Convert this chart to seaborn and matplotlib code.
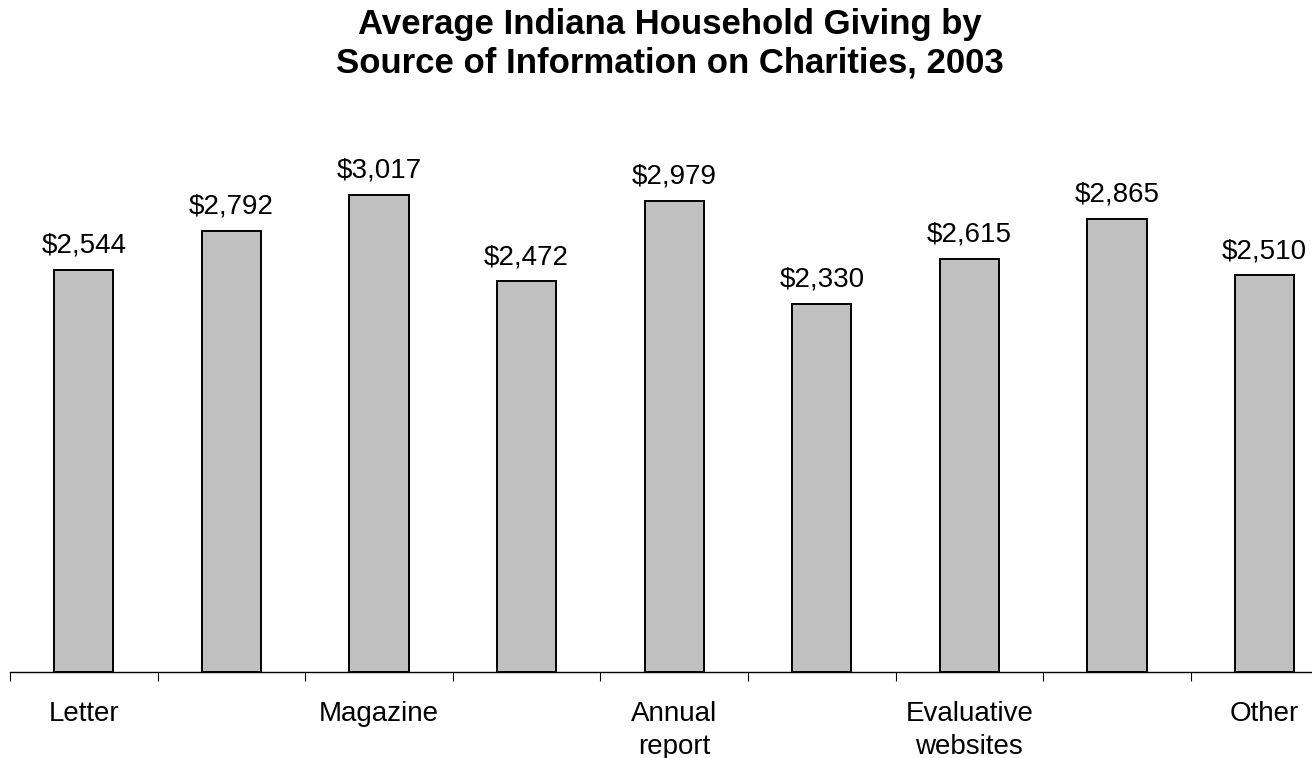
import matplotlib
matplotlib.use("Agg")
import matplotlib.pyplot as plt
from matplotlib import font_manager
import seaborn as sns
import pandas as pd
import numpy as np

# Average giving per household, by source of information on charities
slots = list(range(9))
tick_labels = ["Letter", "", "Magazine", "", "Annual\nreport", "", "Evaluative\nwebsites", "", "Other"]
giving = [2544, 2792, 3017, 2472, 2979, 2330, 2615, 2865, 2510]
title = "Average Indiana Household Giving by\nSource of Information on Charities, 2003"

sns.set_theme(style="white")
plt.rcParams["font.family"] = ["Liberation Sans", "DejaVu Sans"]


def regular_width_font(weight):
    """Pick the normal-width Liberation Sans face (not the Narrow one)."""
    for f in font_manager.fontManager.ttflist:
        if (f.name == "Liberation Sans" and "Narrow" not in f.fname
                and f.style == "normal" and f.weight == weight):
            return font_manager.FontProperties(fname=f.fname)
    return font_manager.FontProperties(family="Liberation Sans",
                                       weight=weight)


bold_fp = regular_width_font(700)
bold_fp.set_size(25)

W, H = 1312, 758
fig = plt.figure(figsize=(W / 100, H / 100), dpi=100)
fig.patch.set_facecolor("white")

ymax = 3500
px_per_unit = 0.1581
ax_left, ax_bottom = 10, 672
ax_w = 147.6 * 9
ax_h = ymax * px_per_unit
ax = fig.add_axes([ax_left / W, (H - ax_bottom) / H, ax_w / W, ax_h / H])

df = pd.DataFrame({"slot": slots, "giving": giving})
sns.barplot(data=df, x="slot", y="giving", ax=ax, color="#C0C0C0",
            saturation=1, width=0.40, edgecolor="black", linewidth=1.4)

ax.set_xlim(-0.5, len(slots) - 0.5)
ax.set_ylim(0, ymax)
ax.set_xlabel("")
ax.set_ylabel("")
ax.set_yticks([])
for side in ["top", "right", "left"]:
    ax.spines[side].set_visible(False)
ax.spines["bottom"].set_color("black")
ax.spines["bottom"].set_linewidth(1.0)
ax.set_facecolor("white")

# Category boundaries carry tick marks; labels sit at category centres
ax.set_xticks(np.arange(-0.5, len(slots) + 0.5, 1.0))
ax.set_xticklabels([])
ax.tick_params(axis="x", which="major", direction="out", length=6.5,
               width=0.8, color="black", bottom=True)
ax.set_xticks(slots, minor=True)
ax.set_xticklabels(tick_labels, minor=True, fontsize=20, color="black",
                   linespacing=1.33)
ax.tick_params(axis="x", which="minor", length=0, pad=21)

for x, v in zip(slots, giving):
    ax.annotate(f"${v:,}", (x, v), xytext=(0, 8), textcoords="offset points",
                ha="center", va="bottom", fontsize=20, color="black")

fig.text(670 / W, 1 - 44 / H, title, ha="center", va="center",
         fontproperties=bold_fp, color="black", linespacing=1.2)

fig.savefig("out.png", dpi=100, facecolor="white")
